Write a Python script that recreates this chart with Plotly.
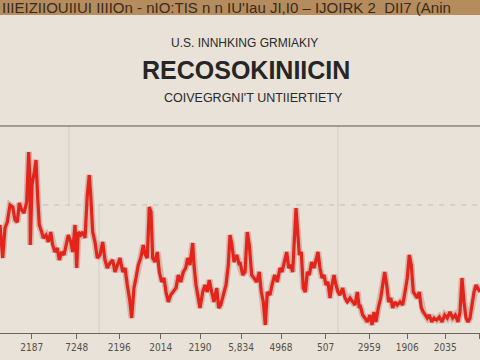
import plotly.graph_objects as go

x_a = [0, 1, 2.7, 5, 7.3, 10, 12.7, 15, 17.3, 19.3, 21.7, 24, 26.7, 28.7, 30, 30.3, 32, 34.3, 36, 37.7,
       39.3, 41.7, 43.3, 46, 48.3, 50.7, 52.7, 55, 57.3, 59.3, 61.7, 64, 66, 68.3, 70.7, 72.7, 75, 76.7,
       78.3, 80.7, 82.7, 85, 87.3, 89.3, 90.7, 92.7, 95, 97.3, 100, 102.7, 105, 107.3, 110, 112.7, 115, 117.3]
y_a = [108, 93, 75, 105, 111, 128, 126, 113, 111, 130, 123, 120, 131, 181, 151, 88, 148, 161, 173, 135,
       108, 101, 95, 98, 91, 101, 88, 81, 85, 73, 81, 78, 88, 98, 91, 81, 108, 65, 101, 98, 101, 95,
       138, 158, 138, 101, 91, 75, 78, 91, 73, 65, 70, 73, 61, 68]

x_b = [120, 122.7, 125, 127.3, 130, 131.7, 134, 136, 138.3, 140.7, 143.3, 145.3, 147.3, 149.3, 151, 152.7,
       155, 157.3, 159.3, 161.7, 164, 166, 168.3, 170.7, 173.3, 176, 178.3, 180.7, 183.3, 185.7, 187.7, 190,
       192.7, 194, 196, 198.3, 200, 202.7, 205, 207.3, 209.3, 211.7, 214, 216.7, 218.7, 220.7, 223.3, 226,
       228.3, 230, 232, 234, 236.7, 239.3]
y_b = [75, 61, 65, 48, 31, 15, 45, 55, 68, 75, 88, 78, 75, 126, 121, 75, 71, 81, 61, 51, 55, 41, 31, 38,
       41, 45, 58, 51, 61, 65, 75, 68, 90, 68, 48, 35, 25, 41, 48, 41, 53, 41, 31, 45, 25, 28, 38, 48, 68,
       98, 88, 71, 78, 68]

x_c = [240, 242.7, 245, 247.3, 249.3, 251.7, 254, 256.7, 259.3, 261.3, 263.3, 265.3, 267.3, 270, 272, 274.7,
       277.3, 280, 282, 284.7, 286.7, 288.7, 290.7, 292.7, 294.3, 296, 297.7, 299.3, 301.3, 303.3, 305.3,
       307.3, 309.3, 311.7, 314, 316, 318, 320, 322, 324, 326, 328, 330, 332, 334, 336, 338, 340, 342.7,
       345, 347.3, 350, 352.7, 355, 357.3, 359.3]
y_c = [71, 58, 61, 101, 88, 58, 55, 51, 61, 41, 31, 8, 41, 38, 48, 58, 51, 65, 61, 71, 81, 65, 68, 61, 95,
       125, 101, 78, 81, 45, 41, 61, 58, 71, 65, 75, 81, 65, 55, 58, 48, 51, 35, 48, 58, 48, 41, 38, 45,
       35, 31, 35, 31, 28, 41, 25]

x_d = [360, 362.7, 365, 367.3, 370, 372, 374, 376, 378.3, 380.7, 382.7, 384.7, 386.7, 388.7, 390.7, 392.7,
       395, 397.3, 400, 402.7, 405, 407.3, 409.3, 411.3, 413.3, 415.3, 417.3, 419.3, 421.3, 423.3, 425.3,
       427.3, 429.3, 431.7, 434, 436.7, 439.3, 442, 444.7, 447.3, 450, 452.7, 455.3, 458, 460, 462, 464,
       466, 468, 470, 472, 474, 476, 478, 480]
y_d = [28, 18, 15, 11, 18, 8, 21, 11, 25, 35, 48, 61, 48, 31, 35, 25, 31, 28, 31, 28, 41, 55, 78, 68, 41,
       38, 35, 41, 25, 21, 18, 15, 18, 11, 15, 13, 16, 11, 18, 15, 21, 15, 18, 11, 21, 55, 31, 15, 11, 15,
       28, 41, 48, 45, 41]

x_vals = x_a + x_b + x_c + x_d
y_vals = y_a + y_b + y_c + y_d

tick_pos = [31.7, 76.7, 119.3, 160.7, 200, 241, 281, 325.7, 369.3, 407.3, 445.3, 479]
tick_text = ["2187", "7248", "2196", "2014", "2190", "5,834", "4968", "507", "2959", "1906", "2035", "4"]

banner_text = "IIIEIZIIOUIIUI IIIIOn - nIO:TIS n n IU'Iau JI,I0 – IJOIRK 2  DII7 (Anin"
title_top = "U.S. INNHKING GRMIAKIY"
title_main = "RECOSOKINIICIN"
title_sub = "COIVEGRGNI'T UNTIIERTIETY"

BG = "#e8e2d8"
PLOT_TOP = 123
PLOT_BOTTOM = 333
PLOT_H = PLOT_BOTTOM - PLOT_TOP


def py(p):
    """convert page pixel row to paper coordinate"""
    return (PLOT_BOTTOM - p) / PLOT_H


fig = go.Figure()
fig.add_trace(go.Scatter(x=x_vals, y=y_vals, mode="lines",
                         line=dict(color="rgba(150,30,20,0.22)", width=6.5),
                         hoverinfo="skip", showlegend=False))
fig.add_trace(go.Scatter(x=x_vals, y=y_vals, mode="lines",
                         line=dict(color="#e4241b", width=3.2),
                         showlegend=False))

shapes = [
    # banner
    dict(type="rect", xref="paper", yref="paper", x0=0, x1=1, y0=py(15), y1=py(0),
         fillcolor="#b48c5e", line=dict(width=0), layer="below"),
    # separator line under titles
    dict(type="line", xref="paper", yref="paper", x0=0, x1=1, y0=py(126), y1=py(126),
         line=dict(color="#5a5550", width=1)),
    # dashed horizontal gridline
    dict(type="line", xref="paper", yref="y", x0=0.09, x1=1, y0=128, y1=128,
         line=dict(color="#c4bcb1", width=1, dash="5px,6px"), layer="below"),
    # faint vertical gridlines
    dict(type="line", xref="x", yref="y", x0=69, x1=69, y0=128, y1=207,
         line=dict(color="#d3ccc1", width=1), layer="below"),
    dict(type="line", xref="x", yref="y", x0=99, x1=99, y0=0, y1=128,
         line=dict(color="#d3ccc1", width=1), layer="below"),
    dict(type="line", xref="x", yref="y", x0=338, x1=338, y0=0, y1=207,
         line=dict(color="#d3ccc1", width=1), layer="below"),
]

annotations = [
    dict(text=banner_text, xref="paper", yref="paper", x=0.0, y=py(8), xanchor="left",
         yanchor="middle", showarrow=False,
         font=dict(family="Liberation Sans, Arial", size=15, color="#3b2a1a")),
    dict(text=title_top, xref="paper", yref="paper", x=0.51, y=py(43), xanchor="center",
         yanchor="middle", showarrow=False,
         font=dict(family="Liberation Sans, Arial", size=12, color="#2a2a2a")),
    dict(text="<b>" + title_main + "</b>", xref="paper", yref="paper", x=0.512, y=py(70),
         xanchor="center", yanchor="middle", showarrow=False,
         font=dict(family="Liberation Sans, Arial", size=25, color="#262626")),
    dict(text=title_sub, xref="paper", yref="paper", x=0.529, y=py(98), xanchor="center",
         yanchor="middle", showarrow=False,
         font=dict(family="Liberation Sans, Arial", size=12.5, color="#2a2a2a")),
]

fig.update_layout(
    width=480, height=360,
    margin=dict(l=0, r=0, t=PLOT_TOP, b=360 - PLOT_BOTTOM, pad=0),
    paper_bgcolor=BG, plot_bgcolor=BG,
    shapes=shapes, annotations=annotations,
    xaxis=dict(range=[0, 480], showgrid=False, zeroline=False, showline=True,
               linecolor="#6a6560", linewidth=1, ticks="outside", ticklen=5,
               tickcolor="#6a6560", tickvals=tick_pos, ticktext=tick_text,
               tickfont=dict(family="DejaVu Sans Condensed, Liberation Sans Narrow", size=10,
                             color="#555049")),
    yaxis=dict(range=[0, PLOT_H], visible=False, showgrid=False, zeroline=False),
)

fig.write_html("out.html")
